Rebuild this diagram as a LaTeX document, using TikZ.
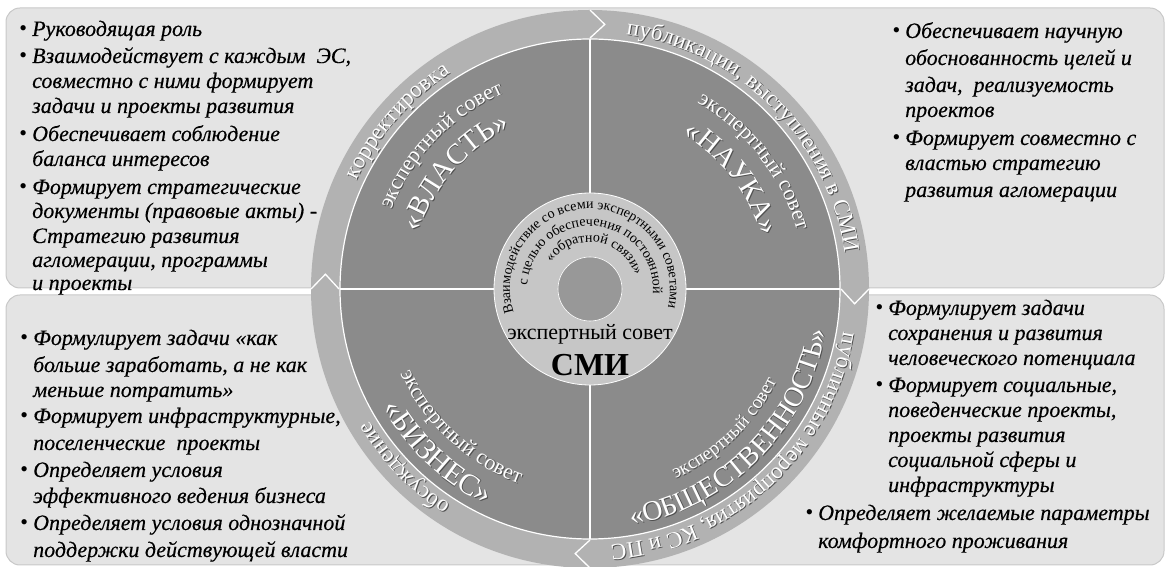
\documentclass[tikz,border=0pt]{standalone}
\usepackage{fontspec}
\setmainfont{Liberation Serif}
\newfontfamily\itemfont{Liberation Serif}[ItalicFeatures={FakeBold=0.35}]
\usetikzlibrary{decorations.text}
\definecolor{boxfill}{HTML}{E4E4E4}
\definecolor{boxline}{HTML}{C8C8C8}
\definecolor{bandfill}{HTML}{B2B2B2}
\definecolor{quadfill}{HTML}{8B8B8B}
\definecolor{diskfill}{HTML}{C6C6C6}
\definecolor{holefill}{HTML}{989898}
\definecolor{shadowc}{HTML}{505050}
\newcommand{\ArcTxt}[5]{%
  \path[decorate, decoration={text along path, text={|#4|#5}, text align=center}]
    ([shift={(#1:#3)}]590,278) arc[start angle=#1, end angle=#2, radius=#3];}
\newcommand{\ArcTxtS}[5]{%
  \begin{scope}[transform canvas={xshift=0.9pt,yshift=-0.9pt}]
    \ArcTxt{#1}{#2}{#3}{\color{shadowc}#4}{#5}
  \end{scope}
  \ArcTxt{#1}{#2}{#3}{\color{white}#4}{#5}}
\newcommand{\Bullt}{\llap{\upshape•\hspace{5pt}}}
\tikzset{
  x=1pt, y=1pt,
  itm/.style={anchor=base west, inner sep=0pt, font=\itemfont\fontsize{22}{25}\selectfont\itshape},
  infobox/.style={fill=boxfill, draw=boxline, line width=1pt, rounded corners=14pt},
  sep/.style={draw=white, line width=1.3pt},
}
\begin{document}
\begin{tikzpicture}
\useasboundingbox (0,0) rectangle (1169,567);
% background boxes
\path[infobox] (6,567-288) rectangle (1164,567-8);
\path[infobox] (6,2) rectangle (1164,567-295);
% circle
\coordinate (C) at (590,278);
\fill[bandfill] (C) circle[radius=279];
\filldraw[fill=quadfill, draw=white, line width=1.2pt] (C) circle[radius=250];
\draw[sep] ([shift={(0:96)}]C) -- ([shift={(0:250)}]C);
\draw[sep] ([shift={(90:96)}]C) -- ([shift={(90:250)}]C);
\draw[sep] ([shift={(180:96)}]C) -- ([shift={(180:250)}]C);
\draw[sep] ([shift={(270:96)}]C) -- ([shift={(270:250)}]C);
\filldraw[fill=diskfill, draw=white, line width=0.8pt] (C) circle[radius=96];
\filldraw[fill=holefill, draw=white, line width=0.6pt] (C) circle[radius=32];
% chevrons in band
\draw[sep, line join=miter] ([shift={(90:279)}]C) -- ([shift={(86.8:265)}]C) -- ([shift={(90:251)}]C);
\draw[sep, line join=miter] ([shift={(0:279)}]C) -- ([shift={(-3.2:265)}]C) -- ([shift={(0:251)}]C);
\draw[sep, line join=miter] ([shift={(270:279)}]C) -- ([shift={(266.8:265)}]C) -- ([shift={(270:251)}]C);
\draw[sep, line join=miter] ([shift={(180:279)}]C) -- ([shift={(176.8:265)}]C) -- ([shift={(180:251)}]C);
% band texts
\ArcTxtS{175}{103}{257}{\fontsize{23}{23}\selectfont}{корректировка}
\ArcTxtS{88}{2}{257}{\fontsize{23}{23}\selectfont}{публикации, выступления в СМИ}
\ArcTxtS{-3}{-92}{257}{\fontsize{23}{23}\selectfont}{публичные мероприятия, КС и ПС}
\ArcTxtS{268}{180}{257}{\fontsize{23}{23}\selectfont}{обсуждение}
% quadrant texts
\ArcTxtS{178}{94}{214}{\fontsize{22}{22}\selectfont}{экспертный совет}
\ArcTxtS{178}{100}{180}{\fontsize{29}{29}\selectfont}{«ВЛАСТЬ»}
\ArcTxtS{80}{-4}{215}{\fontsize{22}{22}\selectfont}{экспертный совет}
\ArcTxtS{80}{-4}{180}{\fontsize{29}{29}\selectfont}{«НАУКА»}
\ArcTxtS{185}{269}{207}{\fontsize{22}{22}\selectfont}{экспертный совет}
\ArcTxtS{183}{271}{239}{\fontsize{30}{30}\selectfont}{«БИЗНЕС»}
\ArcTxtS{-88}{-4}{208}{\fontsize{19}{19}\selectfont}{экспертный совет}
\ArcTxtS{-89}{-1}{240}{\fontsize{28}{28}\selectfont}{«ОБЩЕСТВЕННОСТЬ»}
% centre disk texts
\ArcTxt{215}{-31}{80}{\color{black}\fontsize{14}{14}\selectfont}{Взаимодействие со всеми экспертными советами}
\ArcTxt{200}{-28}{63}{\color{black}\fontsize{14}{14}\selectfont}{с целью обеспечения постоянной}
\ArcTxt{180}{-18}{47}{\color{black}\fontsize{14}{14}\selectfont}{«обратной связи»}
\node[inner sep=0pt, anchor=base, font=\fontsize{22}{22}\selectfont] (smi1) at (590,567-340) {экспертный совет};
\node[inner sep=0pt, anchor=base, font=\fontsize{32}{32}\selectfont\bfseries] (smi2) at (590,567-376) {СМИ};
% top-left box
\node[itm] (tl1) at (32,567-36) {\Bullt Руководящая роль};
\node[itm] (tl2) at (32,567-63) {\Bullt Взаимодействует с каждым\ \ ЭС,};
\node[itm] (tl3) at (32,567-88) {совместно с ними формирует};
\node[itm] (tl4) at (32,567-113) {задачи и проекты развития};
\node[itm] (tl5) at (32,567-141) {\Bullt Обеспечивает соблюдение};
\node[itm] (tl6) at (32,567-166) {баланса интересов};
\node[itm] (tl7) at (32,567-194) {\Bullt Формирует стратегические};
\node[itm] (tl8) at (32,567-218) {документы (правовые акты) -};
\node[itm] (tl9) at (32,567-243) {Стратегию развития};
\node[itm] (tl10) at (32,567-267) {агломерации, программы};
\node[itm] (tl11) at (32,567-290) {и проекты};
% top-right box
\node[itm] (tr1) at (905,567-38) {\Bullt Обеспечивает научную};
\node[itm] (tr2) at (905,567-65) {обоснованность целей и};
\node[itm] (tr3) at (905,567-92) {задач,\ \ реализуемость};
\node[itm] (tr4) at (905,567-117) {проектов};
\node[itm] (tr5) at (905,567-145) {\Bullt Формирует совместно с};
\node[itm] (tr6) at (905,567-170) {властью стратегию};
\node[itm] (tr7) at (905,567-197) {развития агломерации};
% bottom-left box
\node[itm] (bl1) at (33,567-345) {\Bullt Формулирует задачи «как};
\node[itm] (bl2) at (33,567-372) {больше заработать, а не как};
\node[itm] (bl3) at (33,567-397) {меньше потратить»};
\node[itm] (bl4) at (33,567-423) {\Bullt Формирует инфраструктурные,};
\node[itm] (bl5) at (33,567-450) {поселенческие\ \ проекты};
\node[itm] (bl6) at (33,567-477) {\Bullt Определяет условия};
\node[itm] (bl7) at (33,567-503) {эффективного ведения бизнеса};
\node[itm] (bl8) at (33,567-530) {\Bullt Определяет условия однозначной};
\node[itm] (bl9) at (33,567-557) {поддержки действующей власти};
% bottom-right box
\node[itm] (br1) at (888,567-315) {\Bullt Формулирует задачи};
\node[itm] (br2) at (888,567-340) {сохранения и развития};
\node[itm] (br3) at (888,567-365) {человеческого потенциала};
\node[itm] (br4) at (888,567-392) {\Bullt Формирует социальные,};
\node[itm] (br5) at (888,567-417) {поведенческие проекты,};
\node[itm] (br6) at (888,567-442) {проекты развития};
\node[itm] (br7) at (888,567-467) {социальной сферы и};
\node[itm] (br8) at (888,567-492) {инфраструктуры};
\node[itm] (br9) at (818,567-520) {\Bullt Определяет желаемые параметры};
\node[itm] (br10) at (818,567-548) {комфортного проживания};
\end{tikzpicture}
\end{document}
